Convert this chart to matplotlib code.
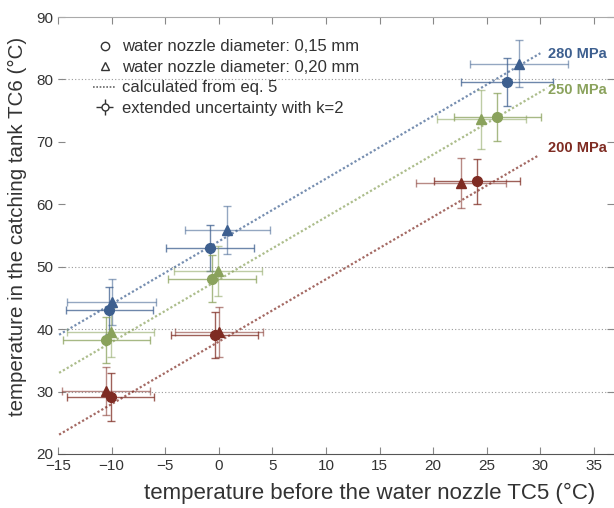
import numpy as np
import matplotlib
matplotlib.use("Agg")
import matplotlib.pyplot as plt
from matplotlib.lines import Line2D

plt.rcParams['font.family'] = ['Liberation Sans', 'DejaVu Sans']

# ==========================================
# Données
# ==========================================
series = ["280 MPa", "250 MPa", "200 MPa"]
colors = ["#3D5F8F", "#8AA25C", "#7E2B22"]

# diamètre 0,15 mm (cercles)
x_015 = [[-10.2, -0.8, 26.9], [-10.5, -0.6, 26.0], [-10.1, -0.4, 24.1]]
y_015 = [[43.0, 53.0, 79.6], [38.2, 48.1, 74.0], [29.1, 39.1, 63.7]]
xerr_015 = [[4.1, 4.1, 4.3], [4.05, 4.1, 4.1], [4.1, 4.1, 4.0]]
yerr_015 = [[3.8, 3.7, 3.9], [3.7, 3.7, 3.8], [3.8, 3.7, 3.6]]

# diamètre 0,20 mm (triangles)
x_020 = [[-10.0, 0.8, 28.0], [-10.1, -0.1, 24.5], [-10.5, 0.0, 22.6]]
y_020 = [[44.4, 55.9, 82.5], [39.5, 49.3, 73.6], [30.1, 39.5, 63.4]]
xerr_020 = [[4.15, 4.0, 4.55], [4.1, 4.1, 4.15], [4.1, 4.1, 4.2]]
yerr_020 = [[3.7, 3.8, 3.75], [3.9, 4.0, 4.75], [3.9, 4.0, 4.0]]

# droites calculées (éq. 5)
calc_x = [[-14.9, 30.0], [-14.9, 30.6], [-14.9, 29.8]]
calc_y = [[39.1, 84.2], [33.0, 78.6], [23.1, 67.8]]

label_pos = [(30.7, 84.1), (30.7, 78.3), (30.7, 69.0)]
grid_y = [30, 40, 50, 80]

# ==========================================
# Figure
# ==========================================
fig = plt.figure(figsize=(6.14, 5.08), dpi=100)
ax = fig.add_axes([0.0945, 0.1063, 0.9055, 0.8602])

for gy in grid_y:
    ax.axhline(gy, color="#999999", lw=0.8, ls=(0, (1, 2)), zorder=0)

for i in range(3):
    c = colors[i]
    ax.plot(calc_x[i], calc_y[i], color=c, lw=1.6, ls=(0, (1, 1)), alpha=0.7, zorder=1)
    ax.errorbar(x_015[i], y_015[i], xerr=xerr_015[i], yerr=yerr_015[i], fmt="none",
                ecolor=c, elinewidth=1.0, capsize=3, alpha=0.75, zorder=2)
    ax.errorbar(x_020[i], y_020[i], xerr=xerr_020[i], yerr=yerr_020[i], fmt="none",
                ecolor=c, elinewidth=1.0, capsize=3, alpha=0.55, zorder=2)
    ax.plot(x_015[i], y_015[i], "o", color=c, ms=7, mec=c, zorder=3)
    ax.plot(x_020[i], y_020[i], "^", color=c, ms=7.5, mec=c, zorder=3)
    ax.text(label_pos[i][0], label_pos[i][1], series[i], color=c, fontsize=10.5,
            fontweight="bold", va="center", ha="left")

ax.set_xlim(-15, 36.87)
ax.set_ylim(20, 90)
ax.set_xticks(np.arange(-15, 40, 5))
ax.set_yticks(np.arange(20, 100, 10))

ax.spines["left"].set_visible(False)
ax.spines["right"].set_visible(False)
ax.spines["top"].set_color("#aaaaaa")
ax.spines["bottom"].set_color("#555555")
ax.tick_params(direction="in", length=5, color="#888888", labelsize=11,
               labelcolor="#333333", top=True, right=True)

ax.set_xlabel("temperature before the water nozzle TC5 (°C)", fontsize=16,
              color="#333333")
ax.xaxis.set_label_coords(0.56, -0.066)
ax.set_ylabel("temperature in the catching tank TC6 (°C)", fontsize=14.8,
              color="#333333")
ax.yaxis.set_label_coords(-0.055, 0.52)

# légende
h1 = Line2D([], [], marker="o", ls="none", mfc="white", mec="#333333", ms=6)
h2 = Line2D([], [], marker="^", ls="none", mfc="white", mec="#333333", ms=6)
h3 = Line2D([], [], color="#666666", ls=(0, (1, 1)), lw=1.2)
h4 = ax.errorbar([np.nan], [np.nan], xerr=[1], yerr=[1], fmt="o", mfc="white",
                 mec="#333333", ecolor="#333333", ms=5, elinewidth=1, capsize=0)
ax.legend([h1, h2, h3, h4],
          ["water nozzle diameter: 0,15 mm", "water nozzle diameter: 0,20 mm",
           "calculated from eq. 5", "extended uncertainty with k=2"],
          loc="upper left", bbox_to_anchor=(0.048, 0.968), frameon=False,
          fontsize=12, handlelength=1.4, handletextpad=0.35, labelspacing=0.33,
          borderpad=0, labelcolor="#333333")

fig.savefig("out.png", dpi=100)
